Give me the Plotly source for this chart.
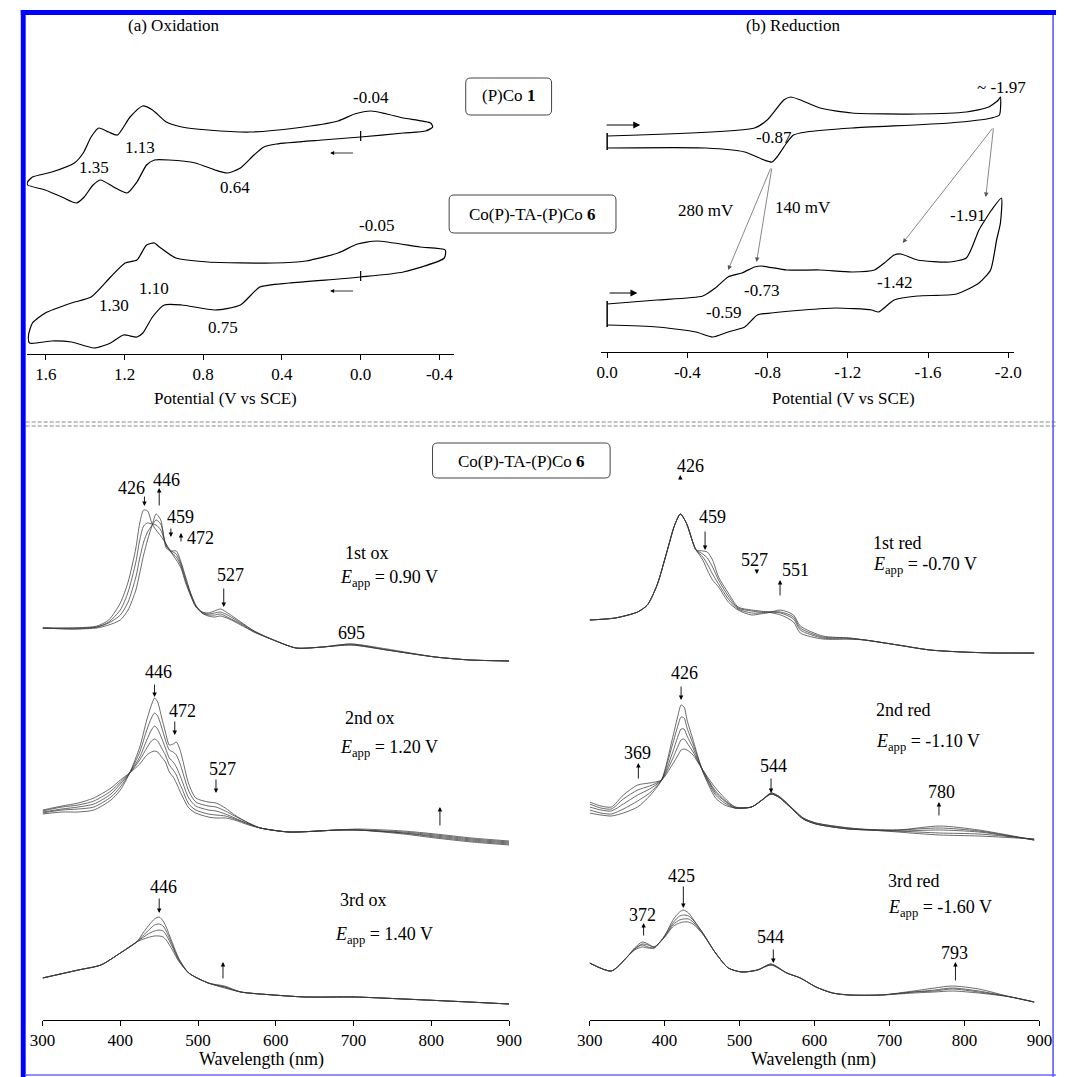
import plotly.graph_objects as go

W, H = 1069, 1077
SERIF = "Liberation Serif, Times New Roman, serif"

# ---------------- (a) Oxidation cyclic voltammograms (E in V vs SCE, current in arbitrary units, offset) ----
ox_cv1_E = [0.00, 0.195, 0.428, 0.492, 0.542, 0.611, 0.676, 0.740, 0.840, 0.974, 1.048, 1.088, 1.137, 1.187,
            1.256, 1.321, 1.360, 1.405, 1.445, 1.519, 1.603, 1.693, 1.693, 1.668, 1.569, 1.455, 1.410, 1.370,
            1.331, 1.281, 1.236, 1.172, 1.107, 1.058, 0.988, 0.909, 0.775, 0.562, 0.329, 0.115, 0.031, -0.053,
            -0.132, -0.217, -0.356, -0.366, -0.331, -0.217, 0.00]
ox_cv1_I = [217, 214, 210, 207, 199, 186, 181, 184, 191, 194, 194, 189, 172, 161,
            167, 174, 169, 157, 151, 157, 164, 169, 172, 177, 182, 191, 201, 217,
            226, 222, 219, 237, 248, 244, 232, 227, 224, 222, 226, 233, 240, 243,
            240, 236, 231, 227, 223, 221, 217]

ox_cv6_E = [0.00, -0.217, -0.425, -0.430, -0.301, -0.083, 0.016, 0.115, 0.279, 0.443, 0.775, 0.939, 1.023,
            1.048, 1.088, 1.137, 1.197, 1.271, 1.370, 1.470, 1.603, 1.668, 1.688, 1.683, 1.569, 1.470, 1.355,
            1.271, 1.206, 1.137, 1.107, 1.058, 0.998, 0.909, 0.740, 0.611, 0.512, 0.364, 0.115, 0.00]
ox_cv6_I = [77, 82, 96, 104, 107, 113, 110, 101, 93, 91, 92, 96, 107,
            111, 109, 94, 91, 77, 57, 51, 41, 31, 19, 11, 13, 12, 6,
            11, 19, 17, 21, 37, 49, 49, 44, 49, 67, 71, 75, 77]

# ---------------- (b) Reduction cyclic voltammograms ----------------
red_cv1_E = [0.00, -0.735, -0.798, -0.881, -0.915, -0.964, -1.061, -1.221, -1.547, -1.791, -1.903, -1.951,
             -1.961, -1.956, -1.917, -1.708, -1.221, -0.993, -0.929, -0.895, -0.847, -0.822, -0.783, -0.686,
             -0.491, 0.00]
red_cv1_I = [216, 224, 232, 252, 255, 252, 244, 239, 238, 240, 245, 252,
             255, 237, 234, 229, 224, 220, 217, 209, 195, 190, 192, 200,
             204, 204]

red_cv6_E = [0.00, -0.248, -0.477, -0.540, -0.603, -0.672, -0.735, -0.769, -0.895, -1.061, -1.221, -1.333,
             -1.382, -1.431, -1.465, -1.547, -1.708, -1.791, -1.820, -1.854, -1.878, -1.917, -1.966, -1.961,
             -1.942, -1.912, -1.854, -1.742, -1.547, -1.431, -1.353, -1.319, -1.139, -0.978, -0.818, -0.749,
             -0.686, -0.603, -0.526, -0.443, -0.248, 0.00]
red_cv6_I = [48, 52, 56, 64, 75, 79, 85, 86, 82, 82, 80, 82,
             89, 97, 98, 92, 90, 94, 105, 122, 130, 142, 154, 129,
             112, 82, 69, 58, 56, 52, 40, 42, 44, 42, 39, 37,
             25, 20, 15, 20, 25, 27]

# ---------------- Spectroelectrochemistry (wavelength nm, absorbance arbitrary units, offset) ----------------
ox1_wl = [300, 340, 370, 385, 400, 410, 420, 425, 430, 435, 441, 446, 452, 459, 465, 472, 478, 484, 490, 497,
          505, 513, 521, 529, 540, 555, 572, 597, 626, 660, 697, 743, 805, 850, 900]
ox1_spectra = [
    [392, 392, 394, 400, 417, 438, 472, 497, 510, 509, 496, 490, 484, 476, 468, 460, 452, 437, 425, 413,
     408, 407, 409, 411, 406, 398, 389, 380, 372, 373, 375, 370, 363, 360, 359],
    [392, 392, 393, 398, 410, 428, 458, 480, 494, 497, 496, 495, 490, 475, 468, 463, 454, 439, 426, 414,
     408, 406, 407, 408, 404, 397, 389, 380, 372, 373, 375, 370, 363, 360, 359],
    [392, 391, 393, 397, 405, 418, 443, 462, 478, 488, 495, 500, 496, 474, 469, 466, 456, 441, 427, 414,
     407, 405, 405, 406, 402, 396, 388, 380, 372, 373, 376, 370, 363, 360, 359],
    [392, 391, 392, 395, 400, 410, 430, 447, 465, 480, 495, 506, 500, 472, 469, 469, 458, 443, 428, 415,
     407, 404, 403, 404, 401, 395, 388, 380, 372, 373, 376, 371, 363, 360, 359],
]

ox2_wl = [300, 325, 346, 366, 388, 400, 412, 425, 434, 440, 444, 448, 453, 458, 463, 468, 472, 476, 479, 488,
          497, 513, 523, 535, 547, 565, 580, 617, 680, 705, 764, 805, 852, 900]
ox2_spectra = [
    [206, 208, 208, 210, 220, 230, 247, 273, 300, 315, 322, 318, 303, 288, 275, 276, 278, 272, 264, 236,
     222, 218, 217, 212, 205, 197, 192, 188, 190, 190, 186, 182, 178, 175],
    [207, 210, 211, 213, 223, 233, 247, 268, 290, 302, 307, 304, 293, 280, 270, 268, 265, 258, 251, 229,
     218, 214, 213, 209, 204, 197, 192, 188, 190, 190, 187, 183, 179, 176],
    [208, 211, 213, 216, 226, 236, 247, 263, 280, 290, 294, 291, 282, 272, 262, 258, 253, 246, 240, 222,
     214, 210, 209, 206, 202, 196, 192, 188, 190, 190, 187, 184, 180, 177],
    [209, 213, 215, 219, 229, 238, 247, 260, 272, 279, 281, 279, 272, 265, 255, 250, 245, 237, 232, 216,
     210, 206, 205, 204, 201, 196, 192, 188, 190, 190, 188, 185, 181, 178],
    [210, 214, 217, 222, 232, 240, 247, 256, 265, 268, 269, 268, 263, 258, 248, 243, 237, 230, 225, 212,
     207, 203, 202, 202, 200, 195, 192, 188, 190, 191, 189, 186, 182, 179],
]

ox3_wl = [300, 346, 375, 400, 421, 430, 438, 444, 450, 455, 459, 467, 475, 488, 513, 534, 555, 597, 638, 701,
          764, 848, 900]
ox3_spectra = [
    [42, 50, 55, 67, 78, 88, 96, 101, 103, 99, 93, 77, 62, 47, 37, 32, 28, 25, 23, 23, 21, 18, 16],
    [42, 50, 55, 67, 78, 85, 91, 95, 96, 94, 89, 75, 61, 47, 37, 33, 28, 25, 23, 23, 21, 18, 16],
    [42, 50, 55, 67, 78, 83, 87, 89, 90, 89, 85, 73, 60, 47, 37, 33, 28, 25, 23, 23, 21, 18, 16],
    [42, 50, 55, 67, 78, 81, 83, 84, 84, 83, 80, 70, 59, 47, 37, 34, 28, 25, 23, 23, 21, 18, 16],
]

red1_wl = [300, 334, 364, 377, 390, 403, 413, 421, 429, 438, 442, 451, 457, 464, 472, 485, 498, 516, 527, 537,
           555, 572, 581, 611, 646, 667, 711, 754, 797, 841, 893]
red1_spectra = [
    [400, 402, 408, 415, 435, 468, 494, 506, 497, 477, 470, 469, 468, 460, 443, 427, 413, 410, 409, 408,
     405, 398, 387, 381, 381, 380, 375, 370, 368, 367, 367],
    [400, 402, 408, 415, 435, 468, 494, 506, 497, 477, 470, 466, 462, 453, 440, 424, 412, 409, 408, 408,
     407, 401, 390, 382, 381, 380, 375, 370, 368, 367, 367],
    [400, 402, 408, 415, 435, 468, 494, 506, 497, 477, 470, 463, 456, 446, 436, 421, 411, 407, 407, 408,
     408, 403, 392, 383, 382, 380, 375, 370, 368, 367, 367],
    [400, 402, 408, 415, 435, 468, 494, 506, 497, 477, 470, 460, 450, 440, 433, 418, 410, 405, 406, 407,
     410, 405, 394, 384, 382, 380, 375, 370, 368, 367, 367],
]

red2_wl = [300, 315, 329, 345, 364, 380, 396, 410, 418, 422, 426, 430, 438, 445, 451, 460, 468, 480, 494, 516,
           530, 542, 552, 563, 585, 602, 646, 711, 767, 819, 893]
red2_spectra = [
    [207, 205, 204, 207, 213, 224, 240, 280, 305, 315, 313, 300, 280, 262, 248, 233, 222, 215, 212, 213,
     220, 227, 224, 217, 202, 197, 192, 188, 185, 184, 181],
    [210, 207, 206, 211, 219, 227, 240, 274, 295, 303, 302, 292, 276, 261, 249, 235, 225, 217, 212, 213,
     220, 227, 224, 217, 202, 197, 192, 189, 187, 186, 181],
    [213, 210, 209, 216, 225, 231, 240, 266, 284, 291, 291, 284, 272, 259, 249, 237, 227, 219, 212, 213,
     220, 226, 223, 216, 201, 196, 191, 189, 190, 188, 180],
    [216, 212, 211, 221, 230, 234, 240, 260, 274, 280, 281, 277, 268, 258, 250, 238, 229, 220, 213, 213,
     220, 226, 223, 216, 201, 196, 191, 190, 192, 189, 180],
    [218, 214, 213, 225, 235, 237, 240, 255, 265, 270, 271, 270, 265, 257, 250, 240, 232, 222, 213, 213,
     220, 226, 223, 216, 201, 196, 191, 190, 194, 190, 180],
]

red3_wl = [300, 329, 350, 360, 370, 378, 386, 399, 412, 420, 425, 432, 438, 451, 468, 485, 503, 524, 542, 563,
           581, 602, 624, 646, 689, 732, 760, 784, 819, 862, 893]
red3_spectra = [
    [57, 49, 63, 70, 73, 72, 72, 83, 101, 108, 110, 107, 101, 87, 67, 52, 48, 50, 56, 47,
     42, 33, 27, 25, 25, 27, 28, 29, 27, 23, 18],
    [57, 49, 63, 71, 75, 73, 72, 83, 98, 104, 105, 104, 100, 87, 67, 52, 48, 50, 56, 47,
     42, 33, 27, 25, 25, 28, 29, 31, 28, 23, 18],
    [57, 49, 63, 71, 76, 75, 73, 82, 96, 100, 101, 101, 98, 86, 67, 52, 48, 50, 55, 47,
     42, 33, 27, 25, 25, 28, 30, 32, 29, 23, 18],
    [57, 49, 63, 72, 78, 76, 73, 82, 94, 97, 98, 98, 96, 86, 67, 52, 48, 50, 55, 47,
     42, 33, 27, 25, 25, 29, 32, 34, 31, 23, 18],
]

# tick labels
ox_tickvals = [1.6, 1.2, 0.8, 0.4, 0.0, -0.4]
ox_ticktext = ["1.6", "1.2", "0.8", "0.4", "0.0", "-0.4"]
red_tickvals = [0.0, -0.4, -0.8, -1.2, -1.6, -2.0]
red_ticktext = ["0.0", "-0.4", "-0.8", "-1.2", "-1.6", "-2.0"]
wl_tickvals = [300, 400, 500, 600, 700, 800, 900]
wl_ticktext = ["300", "400", "500", "600", "700", "800", "900"]

# peak labels: (text, x, y)
ox_cv_labels = [("-0.04", -0.053, 257), ("1.13", 1.122, 207), ("1.35", 1.355, 187), ("0.64", 0.641, 167),
                ("-0.05", -0.079, 129), ("1.10", 1.048, 66), ("1.30", 1.256, 49), ("0.75", 0.700, 27)]
red_cv_labels = [("-0.87", -0.832, 215), ("~ -1.97", -1.966, 265), ("280 mV", -0.491, 142),
                 ("140 mV", -0.978, 145), ("-1.91", -1.796, 137), ("-0.73", -0.769, 62),
                 ("-0.59", -0.579, 40), ("-1.42", -1.431, 70)]
ox_spec_labels = [("426", 415, 532), ("446", 460, 540), ("459", 478, 503), ("472", 503, 482), ("527", 542, 445),
                  ("695", 697, 387), ("446", 449, 348), ("472", 480, 309), ("527", 531, 251), ("446", 456, 133)]
red_spec_labels = [("426", 434, 554), ("459", 464, 503), ("527", 520, 460), ("551", 575, 450),
                   ("426", 426, 347), ("369", 364, 267), ("544", 545, 254), ("780", 770, 228),
                   ("425", 422, 144), ("372", 370, 105), ("544", 541, 83), ("793", 787, 67)]
# arrows: (x_tail, y_tail, x_head, y_head)
ox_spec_arrows = [(431, 525, 431, 514), (450, 513, 450, 532), (465, 493, 465, 483), (478, 477, 478, 487),
                  (533, 433, 533, 413), (444, 337, 444, 323), (470, 300, 470, 285), (523, 242, 523, 227),
                  (811, 193, 811, 213), (450, 123, 450, 107), (532, 40, 532, 58)]
red_spec_arrows = [(421, 539, 421, 545), (454, 490, 454, 470), (523, 451, 523, 446), (554, 423, 554, 440),
                   (422, 335, 422, 320), (365, 240, 365, 257), (542, 243, 542, 227), (766, 203, 766, 218),
                   (425, 135, 425, 112), (372, 83, 372, 97), (545, 72, 545, 57), (788, 38, 788, 58)]
# condition labels: (step, E_app, x, y_step, y_E)
ox_steps = [("1st ox", "0.90 V", 686, 467, 442), ("2nd ox", "1.20 V", 686, 302, 272), ("3rd ox", "1.40 V", 680, 120, 85)]
red_steps = [("1st red", "-0.70 V", 676, 477, 455), ("2nd red", "-1.10 V", 680, 310, 278), ("3rd red", "-1.60 V", 696, 139, 112)]


def xp(px):
    return px / W


def yp(py):
    return 1 - py / H


fig = go.Figure()


def add_line(x, y, xa, ya, width, color="black", smooth=0.6):
    fig.add_trace(go.Scatter(x=x, y=y, mode="lines", xaxis=xa, yaxis=ya, showlegend=False, hoverinfo="skip",
                             line=dict(color=color, width=width, shape="spline", smoothing=smooth)))


add_line(ox_cv1_E, ox_cv1_I, "x", "y", 1.2)
add_line(ox_cv6_E, ox_cv6_I, "x", "y", 1.2)
add_line(red_cv1_E, red_cv1_I, "x2", "y2", 1.2)
add_line(red_cv6_E, red_cv6_I, "x2", "y2", 1.2)
for wl, group in [(ox1_wl, ox1_spectra), (ox2_wl, ox2_spectra), (ox3_wl, ox3_spectra)]:
    for s in group:
        add_line(wl, s, "x3", "y3", 0.75, "#3a3a3a", 0.7)
for wl, group in [(red1_wl, red1_spectra), (red2_wl, red2_spectra), (red3_wl, red3_spectra)]:
    for s in group:
        add_line(wl, s, "x4", "y4", 0.75, "#3a3a3a", 0.7)


def xaxis_cfg(x0, x1, rng, tv, tt, anchor, fsize):
    return dict(domain=[xp(x0), xp(x1)], range=rng, tickvals=tv, ticktext=tt, anchor=anchor,
                ticks="outside", ticklen=5, tickwidth=1, tickcolor="black", showline=True,
                linecolor="black", linewidth=1, showgrid=False, zeroline=False, fixedrange=True,
                tickfont=dict(family=SERIF, size=fsize, color="black"))


def yaxis_cfg(ybot, ytop, anchor):
    return dict(domain=[yp(ybot), yp(ytop)], range=[0, ybot - ytop], anchor=anchor, visible=False,
                fixedrange=True)


annotations = []
shapes = []


def text(t, x, y, xref, yref, size=17, xanchor="center", yanchor="middle"):
    annotations.append(dict(text=t, x=x, y=y, xref=xref, yref=yref, showarrow=False, xanchor=xanchor,
                            yanchor=yanchor, font=dict(family=SERIF, size=size, color="black")))


def arrow(x0, y0, x1, y1, xref, yref, width=1.0, size=1.0, color="black", head=2):
    annotations.append(dict(text="", x=x1, y=y1, ax=x0, ay=y0, xref=xref, yref=yref, axref=xref, ayref=yref,
                            showarrow=True, arrowhead=head, arrowsize=size, arrowwidth=width,
                            arrowcolor=color, standoff=0, startstandoff=0))


# CV labels
for t, x, y in ox_cv_labels:
    text(t, x, y, "x", "y", 17)
for t, x, y in red_cv_labels:
    text(t, x, y, "x2", "y2", 17)
# CV scan direction arrows
arrow(0.031, 201, 0.155, 201, "x", "y", 0.8, 1.0)
arrow(0.031, 63, 0.155, 63, "x", "y", 0.8, 1.0)
arrow(0.01, 227, -0.165, 227, "x2", "y2", 1.0, 1.4)
arrow(-0.005, 59, -0.151, 59, "x2", "y2", 1.0, 1.4)
# correlation arrows between the two reduction CVs
arrow(-0.818, 185, -0.603, 82, "x2", "y2", 0.7, 1.3, "#555555")
arrow(-0.822, 185, -0.745, 90, "x2", "y2", 0.7, 1.3, "#555555")
arrow(-1.927, 225, -1.474, 109, "x2", "y2", 0.7, 1.3, "#555555")
arrow(-1.927, 225, -1.888, 155, "x2", "y2", 0.7, 1.3, "#555555")

# spectra labels
for t, x, y in ox_spec_labels:
    text(t, x, y, "x3", "y3", 18)
for t, x, y in red_spec_labels:
    text(t, x, y, "x4", "y4", 18)
for a in ox_spec_arrows:
    arrow(*a, "x3", "y3", 0.9, 1.0)
for a in red_spec_arrows:
    arrow(*a, "x4", "y4", 0.9, 1.0)
for step, e, x, ys, ye in ox_steps:
    text(step, x, ys, "x3", "y3", 18, "left")
    text("<i>E</i><sub>app</sub> = " + e, x - 6, ye, "x3", "y3", 18, "left")
for step, e, x, ys, ye in red_steps:
    text(step, x, ys, "x4", "y4", 18, "left")
    text("<i>E</i><sub>app</sub> = " + e, x, ye, "x4", "y4", 18, "left")

# start markers on CVs
for E, I, xr, yr in [(ox_cv1_E, ox_cv1_I, "x", "y"), (ox_cv6_E, ox_cv6_I, "x", "y")]:
    shapes.append(dict(type="line", xref=xr, yref=yr, x0=E[0], x1=E[0], y0=I[0] - 4, y1=I[0] + 6,
                       line=dict(color="black", width=1.2)))
for E, I, xr, yr in [(red_cv1_E, red_cv1_I, "x2", "y2"), (red_cv6_E, red_cv6_I, "x2", "y2")]:
    shapes.append(dict(type="line", xref=xr, yref=yr, x0=E[0], x1=E[0], y0=min(I[0], I[-1]) - 2,
                       y1=max(I[0], I[-1]) + 3, line=dict(color="black", width=1.5)))


# panel titles and axis titles (paper coords)
def ptext(t, px, py, size=17):
    annotations.append(dict(text=t, x=xp(px), y=yp(py), xref="paper", yref="paper", showarrow=False,
                            xanchor="center", yanchor="middle", font=dict(family=SERIF, size=size, color="black")))


ptext("(a) Oxidation", 165, 25)
ptext("(b) Reduction", 799, 25)
ptext("Potential (V vs SCE)", 218, 398)
ptext("Potential (V vs SCE)", 851, 398)
ptext("Wavelength (nm)", 255, 1059, 18)
ptext("Wavelength (nm)", 820, 1059, 18)
ptext("(P)Co <b>1</b>", 508, 96, 17)
ptext("Co(P)-TA-(P)Co <b>6</b>", 532, 214, 17)
ptext("Co(P)-TA-(P)Co <b>6</b>", 521, 461, 17)


def rbox(x0, y0, x1, y1, r=5):
    X, Y = xp, yp
    path = (f"M {X(x0 + r)},{Y(y0)} L {X(x1 - r)},{Y(y0)} Q {X(x1)},{Y(y0)} {X(x1)},{Y(y0 + r)} "
            f"L {X(x1)},{Y(y1 - r)} Q {X(x1)},{Y(y1)} {X(x1 - r)},{Y(y1)} L {X(x0 + r)},{Y(y1)} "
            f"Q {X(x0)},{Y(y1)} {X(x0)},{Y(y1 - r)} L {X(x0)},{Y(y0 + r)} Q {X(x0)},{Y(y0)} {X(x0 + r)},{Y(y0)} Z")
    return dict(type="path", xref="paper", yref="paper", path=path, line=dict(color="#444444", width=1))


shapes.append(rbox(464, 78, 552, 115))
shapes.append(rbox(447, 195, 618, 233))
shapes.append(rbox(430, 443, 612, 478))

# separators
for yy in [422, 426]:
    shapes.append(dict(type="line", xref="paper", yref="paper", x0=xp(13), x1=xp(1069), y0=yp(yy), y1=yp(yy),
                       line=dict(color="#888888", width=1, dash="4px,2px")))

# blue frame
shapes.append(dict(type="rect", xref="paper", yref="paper", x0=xp(8), x1=xp(1069), y0=yp(15), y1=yp(10),
                   fillcolor="#0000ff", line=dict(width=0)))
shapes.append(dict(type="rect", xref="paper", yref="paper", x0=xp(8), x1=xp(13), y0=yp(1077), y1=yp(10),
                   fillcolor="#0000ff", line=dict(width=0)))
shapes.append(dict(type="line", xref="paper", yref="paper", x0=xp(13), x1=xp(1069), y0=yp(1075), y1=yp(1075),
                   line=dict(color="#6a6aff", width=1.5)))
shapes.append(dict(type="line", xref="paper", yref="paper", x0=xp(1066), x1=xp(1066), y0=yp(1077), y1=yp(15),
                   line=dict(color="#5050ff", width=1.5)))

fig.update_layout(
    width=W, height=H, margin=dict(l=0, r=0, t=0, b=0, pad=0),
    paper_bgcolor="white", plot_bgcolor="white", showlegend=False,
    xaxis=xaxis_cfg(14.1, 451.9, [1.697, -0.474], ox_tickvals, ox_ticktext, "y", 17),
    yaxis=yaxis_cfg(354, 50, "x"),
    xaxis2=xaxis_cfg(603, 1026, [0.029, -2.029], red_tickvals, red_ticktext, "y2", 17),
    yaxis2=yaxis_cfg(352, 50, "x2"),
    xaxis3=xaxis_cfg(30.3, 508.5, [300, 900], wl_tickvals, wl_ticktext, "y3", 17),
    yaxis3=yaxis_cfg(1020, 450, "x3"),
    xaxis4=xaxis_cfg(591, 1052, [300, 900], wl_tickvals, wl_ticktext, "y4", 17),
    yaxis4=yaxis_cfg(1020, 450, "x4"),
    annotations=annotations, shapes=shapes,
)

# remove the browser's default 8px body margin so the figure sits at the page origin
fig.write_html("out.html", config={"displayModeBar": False},
               post_script="document.body.style.margin='0px';document.body.style.overflow='hidden';")
